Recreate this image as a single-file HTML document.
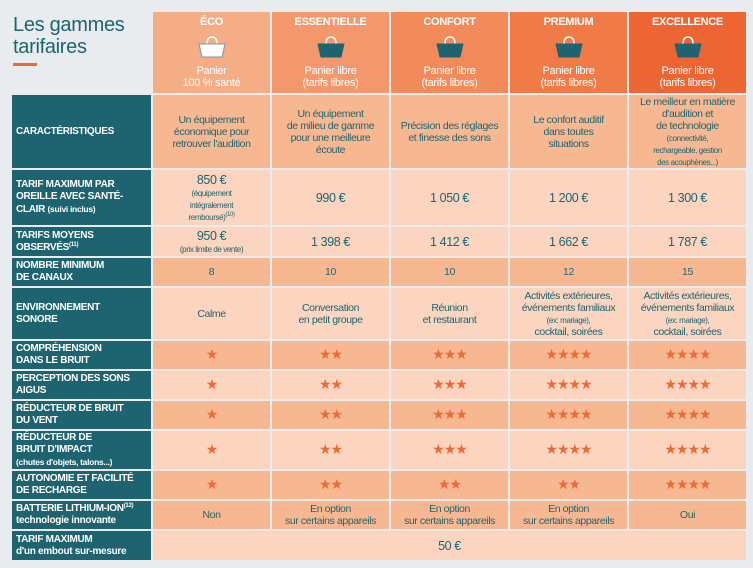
<!DOCTYPE html>
<html><head><meta charset="utf-8">
<style>
body{margin:0;width:753px;height:568px;background:#e8ecef;font-family:"Liberation Sans",sans-serif;overflow:hidden;position:relative}
.c{position:absolute;display:flex;align-items:center;justify-content:center;text-align:center;color:#1e6470;font-size:10.5px;line-height:12px;letter-spacing:-0.4px;box-sizing:border-box}
.l{position:absolute;left:12px;width:139px;background:#1e6470;color:#fff;font-weight:bold;font-size:10px;line-height:12px;letter-spacing:-0.3px;display:flex;align-items:center;padding-left:4px;box-sizing:border-box}
.l small{font-size:8.5px;font-weight:bold;line-height:12px}
sup{font-size:6px;line-height:0;vertical-align:4px}
.d{background:#f7b891}.g{background:#fbd5bf}
small{font-size:8px;line-height:10px}
.big{font-size:12.5px;line-height:14px}
.s{color:#ec6a35;font-size:14px;letter-spacing:-1px}
.h{position:absolute;top:12px;height:81px;color:#fff;display:flex;flex-direction:column;align-items:center;text-align:center;font-size:11px;line-height:12px;letter-spacing:-0.3px}
.h b{margin-top:4px;font-size:11px}
.h svg{margin:8px 0 7px}
</style></head><body>
<div style="position:absolute;left:13px;top:14px;color:#1e6470;font-size:20px;line-height:22px;letter-spacing:-0.3px">Les gammes<br>tarifaires</div>
<div style="position:absolute;left:13px;top:63px;width:24px;height:3px;background:#ec6a35"></div>

<div id="t"></div>
<script>
const cols=[153,272,391,510,629];const W=117;
const heads=[["ÉCO","Panier<br>100 % santé","#f5ad86",1],["ESSENTIELLE","Panier libre<br>(tarifs libres)","#f3986c",0],["CONFORT","Panier libre<br>(tarifs libres)","#f28b59",0],["PREMIUM","Panier libre<br>(tarifs libres)","#f07b47",0],["EXCELLENCE","Panier libre<br>(tarifs libres)","#ec6532",0]];
const rows=[
[95,73,"d","CARACTÉRISTIQUES",["Un équipement<br>économique pour<br>retrouver l'audition","Un équipement<br>de milieu de gamme<br>pour une meilleure<br>écoute","Précision des réglages<br>et finesse des sons","Le confort auditif<br>dans toutes<br>situations","Le meilleur en matière<br>d'audition et<br>de technologie<br><small>(connectivité,<br>rechargeable, gestion<br>des acouphènes...)</small>"]],
[170,55,"g","TARIF MAXIMUM PAR<br>OREILLE AVEC SANTÉ-<br>CLAIR <small>(suivi inclus)</small>",["<span class='big'>850 €</span><br><small>(équipement<br>intégralement<br>remboursé)<sup>(10)</sup></small>","<span class='big'>990 €</span>","<span class='big'>1 050 €</span>","<span class='big'>1 200 €</span>","<span class='big'>1 300 €</span>"]],
[227,29,"g","TARIFS MOYENS<br>OBSERVÉS<sup>(11)</sup>",["<span class='big'>950 €</span><br><small>(prix limite de vente)</small>","<span class='big'>1 398 €</span>","<span class='big'>1 412 €</span>","<span class='big'>1 662 €</span>","<span class='big'>1 787 €</span>"]],
[258,28,"d","NOMBRE MINIMUM<br>DE CANAUX",["8","10","10","12","15"]],
[288,51,"g","ENVIRONNEMENT<br>SONORE",["Calme","Conversation<br>en petit groupe","Réunion<br>et restaurant","Activités extérieures,<br>événements familiaux<br><small>(ex: mariage),</small><br>cocktail, soirées","Activités extérieures,<br>événements familiaux<br><small>(ex: mariage),</small><br>cocktail, soirées"]],
[341,28,"d","COMPRÉHENSION<br>DANS LE BRUIT",[1,2,3,4,4]],
[371,28,"g","PERCEPTION DES SONS<br>AIGUS",[1,2,3,4,4]],
[401,28,"d","RÉDUCTEUR DE BRUIT<br>DU VENT",[1,2,3,4,4]],
[431,38,"g","RÉDUCTEUR DE<br>BRUIT D'IMPACT<br><small>(chutes d'objets, talons...)</small>",[1,2,3,4,4]],
[471,28,"d","AUTONOMIE ET FACILITÉ<br>DE RECHARGE",[1,2,2,2,4]],
[501,28,"d","BATTERIE LITHIUM-ION<sup>(12)</sup><br>technologie innovante",["Non","En option<br>sur certains appareils","En option<br>sur certains appareils","En option<br>sur certains appareils","Oui"]],
];
const t=document.getElementById('t');let h='';
const bag=(w)=>`<svg width="28" height="22" viewBox="0 0 28 22"><path d="M9 8 Q9 1 14 1 Q19 1 19 8" fill="none" stroke="#fff" stroke-width="1.6"/><path d="M1 8 H27 L24 21 H4 Z" fill="${w?'#fff':'#1e6470'}" stroke="${w?'#7a9aa0':'#1e6470'}" stroke-width="1"/></svg>`;
heads.forEach((x,i)=>{h+=`<div class="h" style="left:${cols[i]}px;width:${W}px;background:${x[2]}"><b>${x[0]}</b>${bag(x[3])}<div>${x[1]}</div></div>`;});
rows.forEach((r,ri)=>{h+=`<div class="l" style="top:${r[0]}px;height:${r[1]}px"><div>${r[3]}</div></div>`;
r[4].forEach((v,i)=>{const txt=typeof v==='number'?`<span class="s">${'★'.repeat(v)}</span>`:v;
h+=`<div class="c ${r[2]}" style="left:${cols[i]}px;width:${W}px;top:${r[0]}px;height:${r[1]}px"><div>${txt}</div></div>`;});});
h+=`<div class="l" style="top:531px;height:29px"><div>TARIF MAXIMUM<br>d'un embout sur-mesure</div></div>`;
h+=`<div class="c g" style="left:153px;width:593px;top:531px;height:29px"><div><span class="big">50 €</span></div></div>`;
t.innerHTML=h;
</script>
</body></html>
